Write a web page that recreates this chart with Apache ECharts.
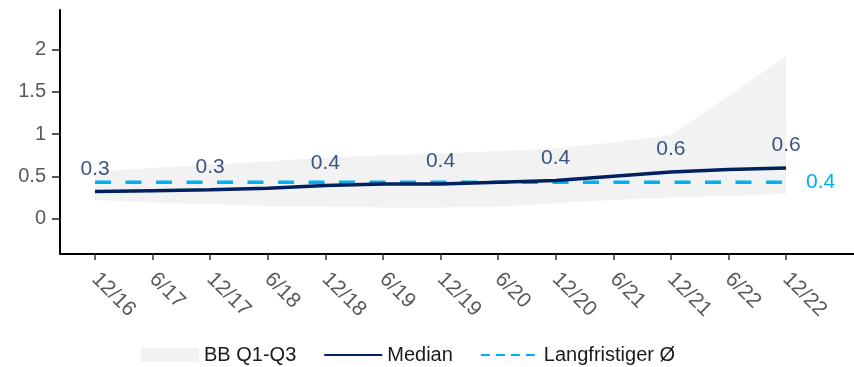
<!DOCTYPE html>
<html>
<head>
<meta charset="utf-8">
<script src="https://cdn.jsdelivr.net/npm/echarts@6/dist/echarts.min.js"></script>
<style>
html,body{margin:0;padding:0;background:#fff;}
#chart{width:854px;height:367px;}
</style>
</head>
<body>
<div id="chart"></div>
<script>
// ---- data ----
var xLabels = ['12/16','6/17','12/17','6/18','12/18','6/19','12/19','6/20','12/20','6/21','12/21','6/22','12/22'];
var q1 = [0.22, 0.19, 0.17, 0.15, 0.14, 0.13, 0.13, 0.14, 0.18, 0.22, 0.25, 0.27, 0.29];
var q3 = [0.56, 0.60, 0.64, 0.68, 0.72, 0.75, 0.77, 0.80, 0.83, 0.90, 0.99, 1.45, 1.92];
var median = [0.32, 0.33, 0.34, 0.36, 0.39, 0.41, 0.41, 0.43, 0.45, 0.50, 0.55, 0.58, 0.60];
var medianLabels = ['0.3','','0.3','','0.4','','0.4','','0.4','','0.6','','0.6'];
var longRun = [0.43, 0.43, 0.43, 0.43, 0.43, 0.43, 0.43, 0.43, 0.43, 0.43, 0.43, 0.43, 0.43];
var longRunLabel = '0.4';
var yTicks = [0, 0.5, 1, 1.5, 2];

// ---- build ----
var FONT = 'Liberation Sans, Arial, sans-serif';
var xIdx = xLabels.map(function(_, i){ return i; });
function pairs(arr){ return arr.map(function(v, i){ return [i, v]; }); }

var chart = echarts.init(document.getElementById('chart'), null, {renderer:'canvas'});
chart.setOption({
  animation: false,
  backgroundColor: '#ffffff',
  textStyle: { fontFamily: FONT },
  grid: { left: 60, right: 0, top: 10, bottom: 113 },
  legend: {
    left: 136, top: 340,
    itemWidth: 58, itemHeight: 14, itemGap: 27,
    textStyle: { fontFamily: FONT, fontSize: 20, color: '#1a1a1a' },
    data: [
      { name: 'BB Q1-Q3', icon: 'rect', itemStyle: { color: '#f2f2f2' } },
      { name: 'Median', itemStyle: { opacity: 0 } },
      { name: 'Langfristiger Ø', itemStyle: { opacity: 0 }, lineStyle: { type: [9, 6] } }
    ]
  },
  xAxis: {
    type: 'value',
    min: -0.608, max: 13.18,
    splitLine: { show: false },
    axisLine: { show: true, onZero: false, lineStyle: { color: '#000', width: 2 } },
    axisTick: { show: true, length: 6, customValues: xIdx, lineStyle: { color: '#333', width: 1.5 } },
    axisLabel: {
      customValues: xIdx,
      rotate: -45, margin: 22,
      fontFamily: FONT, fontSize: 21, color: '#595959',
      formatter: function(v){ return xLabels[Math.round(v)]; }
    }
  },
  yAxis: {
    type: 'value',
    min: -0.42, max: 2.47,
    splitLine: { show: false },
    axisLine: { show: true, onZero: false, lineStyle: { color: '#000', width: 2 } },
    axisTick: { show: true, length: 8, customValues: yTicks, lineStyle: { color: '#222', width: 1.5 } },
    axisLabel: {
      customValues: yTicks, margin: 14,
      fontFamily: FONT, fontSize: 20, color: '#595959'
    }
  },
  series: [
    {
      name: 'BB Q1-Q3', type: 'custom',
      itemStyle: { color: '#f2f2f2' },
      data: [[0, 0]],
      silent: true, z: 1,
      renderItem: function(params, api){
        var pts = [];
        for (var i = 0; i < q3.length; i++) pts.push(api.coord([i, q3[i]]));
        for (var j = q1.length - 1; j >= 0; j--) pts.push(api.coord([j, q1[j]]));
        return { type: 'polygon', shape: { points: pts }, style: { fill: '#f2f2f2' } };
      }
    },
    {
      name: 'Langfristiger Ø', type: 'line', data: pairs(longRun),
      symbol: 'none',
      itemStyle: { color: '#00b0f0' },
      lineStyle: { color: '#00b0f0', width: 3.5, type: [16, 14.5] },
      z: 3,
      endLabel: {
        show: true, distance: 20,
        formatter: function(){ return longRunLabel; },
        fontFamily: FONT, fontSize: 21, color: '#00b0f0'
      }
    },
    {
      name: 'Median', type: 'line', data: pairs(median),
      symbol: 'none',
      itemStyle: { color: '#002060' },
      lineStyle: { color: '#002060', width: 3.5 },
      z: 4
    },
    {
      name: 'medianLabels', type: 'scatter', data: pairs(median),
      symbolSize: 0, silent: true, z: 5,
      label: {
        show: true, position: 'top', distance: 12,
        fontFamily: FONT, fontSize: 21, color: '#0d2b61',
        formatter: function(p){ return medianLabels[p.dataIndex]; }
      }
    }
  ]
});
</script>
</body>
</html>
